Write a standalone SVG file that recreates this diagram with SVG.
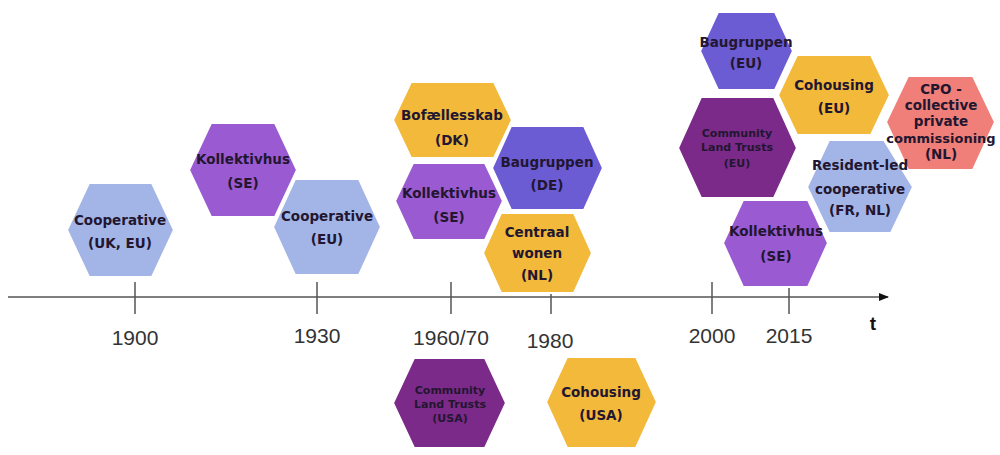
<svg xmlns="http://www.w3.org/2000/svg" width="1000" height="455" viewBox="0 0 1000 455">
<style>
.hex{stroke:#fff;stroke-width:2}
.blue{fill:#a3b5e6}
.purple{fill:#9a5bd2}
.yellow{fill:#f2b93b}
.indigo{fill:#6b5cd4}
.plum{fill:#7b2a89}
.salmon{fill:#ef7f78}
.lbl{font-family:"DejaVu Sans",sans-serif;font-weight:bold;font-size:13.5px;fill:#221630;text-anchor:middle}
.sm{font-size:11px}
.yr{font-family:"Liberation Sans",Arial,sans-serif;font-size:21px;fill:#333;text-anchor:middle}
.axis{stroke:#555;stroke-width:1.5;fill:none}
</style>
<defs>
<marker id="arr" markerWidth="10" markerHeight="8" refX="9" refY="4" orient="auto" markerUnits="userSpaceOnUse">
<path d="M0,0 L10,4 L0,8 z" fill="#111"/>
</marker>
</defs>
<g id="connectors">
<line class="axis" x1="8" y1="297" x2="888" y2="297" marker-end="url(#arr)"/>
<line class="axis" x1="135" y1="282" x2="135" y2="314"/>
<line class="axis" x1="317" y1="282" x2="317" y2="314"/>
<line class="axis" x1="451" y1="282" x2="451" y2="314"/>
<line class="axis" x1="551" y1="282" x2="551" y2="314"/>
<line class="axis" x1="712" y1="282" x2="712" y2="314"/>
<line class="axis" x1="789" y1="282" x2="789" y2="314"/>
</g>
<g id="years">
<text class="yr" x="135" y="345">1900</text>
<text class="yr" x="317" y="343">1930</text>
<text class="yr" x="451" y="345">1960/70</text>
<text class="yr" x="550" y="348">1980</text>
<text class="yr" x="712" y="343">2000</text>
<text class="yr" x="789" y="343">2015</text>
<text x="873" y="330" style="font-family:'Liberation Sans',Arial,sans-serif;font-weight:bold;font-size:19px;fill:#111;text-anchor:middle">t</text>
</g>
<g id="coop-uk">
<polygon class="hex blue" points="67,230 89,183 152,183 174,230 152,277 89,277"/>
<text class="lbl" x="120" y="225">Cooperative</text>
<text class="lbl" x="120" y="248">(UK, EU)</text>
</g>
<g id="kollektivhus-1">
<polygon class="hex purple" points="189,170 211,123 275,123 297,170 275,217 211,217"/>
<text class="lbl" x="243" y="164">Kollektivhus</text>
<text class="lbl" x="243" y="188">(SE)</text>
</g>
<g id="coop-eu">
<polygon class="hex blue" points="273,227 295,179 359,179 381,227 359,275 295,275"/>
<text class="lbl" x="327" y="221">Cooperative</text>
<text class="lbl" x="327" y="244">(EU)</text>
</g>
<g id="bofaellesskab">
<polygon class="hex yellow" points="393,120 411,82 494,82 512,120 494,158 411,158"/>
<text class="lbl" x="452" y="120">Bofællesskab</text>
<text class="lbl" x="452" y="145">(DK)</text>
</g>
<g id="baugruppen-de">
<polygon class="hex indigo" points="492,168 511,126 584,126 603,168 584,210 511,210"/>
<text class="lbl" x="547" y="167">Baugruppen</text>
<text class="lbl" x="547" y="190">(DE)</text>
</g>
<g id="kollektivhus-2">
<polygon class="hex purple" points="395,201 413,163 485,163 503,201 485,240 413,240"/>
<text class="lbl" x="449" y="198">Kollektivhus</text>
<text class="lbl" x="449" y="222">(SE)</text>
</g>
<g id="centraal-wonen">
<polygon class="hex yellow" points="483,253 501,213 574,213 592,253 574,293 501,293"/>
<text class="lbl" x="537" y="237">Centraal</text>
<text class="lbl" x="537" y="258">wonen</text>
<text class="lbl" x="537" y="280">(NL)</text>
</g>
<g id="clt-usa">
<polygon class="hex plum" points="393,403 414,358 485,358 506,403 485,448 414,448"/>
<text class="lbl sm" x="450" y="394">Community</text>
<text class="lbl sm" x="450" y="408">Land Trusts</text>
<text class="lbl sm" x="450" y="422">(USA)</text>
</g>
<g id="cohousing-usa">
<polygon class="hex yellow" points="546,402 567,357 636,357 657,402 636,448 567,448"/>
<text class="lbl" x="601" y="397">Cohousing</text>
<text class="lbl" x="601" y="420">(USA)</text>
</g>
<g id="baugruppen-eu">
<polygon class="hex indigo" points="700,51 718,12 775,12 793,51 775,90 718,90"/>
<text class="lbl" x="746" y="47">Baugruppen</text>
<text class="lbl" x="746" y="68">(EU)</text>
</g>
<g id="cohousing-eu">
<polygon class="hex yellow" points="778,95 797,55 871,55 890,95 871,135 797,135"/>
<text class="lbl" x="834" y="90">Cohousing</text>
<text class="lbl" x="834" y="113">(EU)</text>
</g>
<g id="clt-eu">
<polygon class="hex plum" points="678,148 701,97 774,97 797,148 774,198 701,198"/>
<text class="lbl sm" x="737" y="137">Community</text>
<text class="lbl sm" x="737" y="151">Land Trusts</text>
<text class="lbl sm" x="737" y="167">(EU)</text>
</g>
<g id="cpo">
<polygon class="hex salmon" points="886,122 908,76 973,76 995,122 973,170 908,170"/>
<text class="lbl" x="941" y="94">CPO -</text>
<text class="lbl" x="941" y="110">collective</text>
<text class="lbl" x="941" y="126">private</text>
<text class="lbl" x="941" y="143" style="font-size:13px">commissioning</text>
<text class="lbl" x="941" y="159">(NL)</text>
</g>
<g id="resident-led">
<polygon class="hex blue" points="807,187 829,140 884,140 913,187 891,233 829,233"/>
<text class="lbl" x="860" y="170">Resident-led</text>
<text class="lbl" x="860" y="194">cooperative</text>
<text class="lbl" x="860" y="215">(FR, NL)</text>
</g>
<g id="kollektivhus-3">
<polygon class="hex purple" points="723,243 743,200 808,200 828,243 808,287 743,287"/>
<text class="lbl" x="776" y="236">Kollektivhus</text>
<text class="lbl" x="776" y="261">(SE)</text>
</g>
</svg>
